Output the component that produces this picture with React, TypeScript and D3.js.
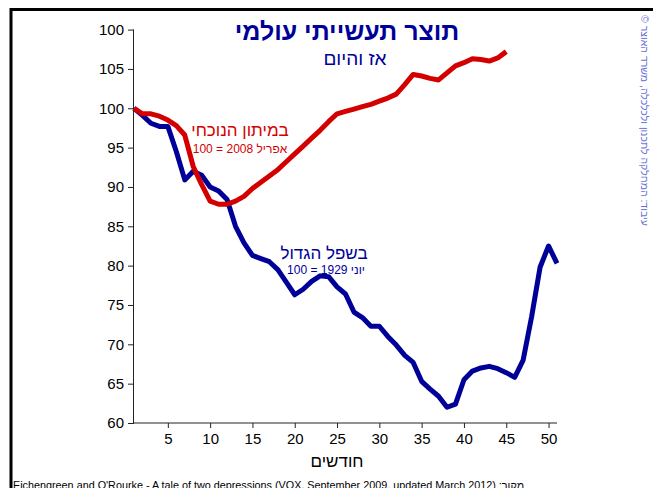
import React, { useRef, useEffect } from "react";
import * as d3 from "d3";

// month index (1..n) -> industrial output index
const greatDepression = [
  100, 99.1, 98.1, 97.7, 97.7, 94.5, 90.9, 92.0, 91.5, 90.0,
  89.5, 88.4, 85.0, 82.9, 81.3, 80.9, 80.5, 79.5, 77.9, 76.3,
  77.0, 78.0, 78.7, 78.6, 77.3, 76.4, 74.1, 73.4, 72.3, 72.3,
  71.0, 69.9, 68.6, 67.7, 65.3, 64.3, 63.4, 62.0, 62.4, 65.5,
  66.6, 67.0, 67.2, 66.9, 66.4, 65.8, 68.0, 73.5, 79.8, 82.5,
  80.3
];

const currentRecession = [
  100, 99.3, 99.3, 99.0, 98.5, 97.8, 96.6, 92.6, 90.3, 88.2,
  87.8, 87.8, 88.2, 88.8, 89.8, 90.6, 91.4, 92.2, 93.2, 94.2,
  95.2, 96.2, 97.2, 98.3, 99.3, 99.6, 99.9, 100.2, 100.5, 100.9,
  101.3, 101.8, 103.0, 104.3, 104.1, 103.8, 103.6, 104.5, 105.4, 105.8,
  106.3, 106.2, 106.0, 106.4, 107.2
];

const xTicks = [5, 10, 15, 20, 25, 30, 35, 40, 45, 50];
const yTicks = [60, 65, 70, 75, 80, 85, 90, 95, 100, 105, 110];
const yTickLabels = ["60", "65", "70", "75", "80", "85", "90", "95", "100", "105", "100"];

const title = "תוצר תעשייתי עולמי";
const subtitle = "אז והיום";
const redLabel = ["במיתון הנוכחי", "אפריל 2008 = 100"];
const blueLabel = ["בשפל הגדול", "יוני 1929 = 100"];
const xTitle = "חודשים";
const source = "Eichengreen and O'Rourke - A tale of two depressions (VOX, September 2009, updated March 2012) :מקור";
const sideNote = "עיבוד: המחלקה לתכנון ולכלכלה, משרד האוצר ©";

const FONT = "'Liberation Sans', Arial, 'DejaVu Sans', sans-serif";
const BLUE = "#000099";
const RED = "#d40000";

export default function App() {
  const svgRef = useRef<SVGSVGElement>(null);

  useEffect(() => {
    const svg = d3.select(svgRef.current);
    svg.selectAll("*").remove();

    const x = d3.scaleLinear().domain([1, 51]).range([134, 557]);
    const y = d3.scaleLinear().domain([60, 110]).range([423, 29.6]);

    // frame
    svg.append("line").attr("x1", 10).attr("x2", 653).attr("y1", 9.5).attr("y2", 9.5)
      .attr("stroke", "#000").attr("stroke-width", 3);
    svg.append("line").attr("x1", 11).attr("x2", 11).attr("y1", 8).attr("y2", 488)
      .attr("stroke", "#000").attr("stroke-width", 3);

    // y axis
    const yAxis = d3.axisLeft(y).tickValues(yTicks)
      .tickFormat((d, i) => yTickLabels[i]).tickSize(6).tickPadding(4);
    const gy = svg.append("g").attr("transform", `translate(${x(1)},0)`).call(yAxis);
    gy.select(".domain").attr("d", `M-0.5,${y(110)}V${y(60)}`);

    // x axis
    const xAxis = d3.axisBottom(x).tickValues(xTicks).tickSize(5).tickPadding(5);
    const gx = svg.append("g").attr("transform", `translate(0,${y(60)})`).call(xAxis);
    gx.select(".domain").attr("d", `M${x(1) - 0.5},0H${x(51)}`);

    [gx, gy].forEach(g => {
      g.attr("font-family", FONT).attr("font-size", 15);
      g.selectAll("text").style("font-family", FONT).style("font-size", "15px").attr("fill", "#000");
      g.selectAll("line, path").attr("stroke", "#222");
    });

    const line = d3.line<number>()
      .x((d, i) => x(i + 1))
      .y(d => y(d));

    svg.append("path").datum(greatDepression).attr("d", line)
      .attr("fill", "none").attr("stroke", BLUE).attr("stroke-width", 5)
      .attr("stroke-linejoin", "round");
    svg.append("path").datum(currentRecession).attr("d", line)
      .attr("fill", "none").attr("stroke", RED).attr("stroke-width", 5)
      .attr("stroke-linejoin", "round");

    const txt = (s: string, tx: number, ty: number, size: number, fill: string, weight = "normal") =>
      svg.append("text").attr("x", tx).attr("y", ty).attr("text-anchor", "middle")
        .attr("direction", "rtl").attr("font-family", FONT).attr("font-size", size)
        .attr("font-weight", weight).attr("fill", fill).text(s);

    txt(title, 347, 40, 25, BLUE, "bold");
    txt(subtitle, 355, 65, 19, BLUE);
    txt(redLabel[0], 240, 136, 17, RED);
    txt(redLabel[1], 240, 153, 12, RED);
    txt(blueLabel[0], 324, 259, 17, BLUE);
    txt(blueLabel[1], 326, 274, 12, BLUE);
    txt(xTitle, 337, 467, 17, "#000");

    svg.append("text").attr("x", 13).attr("y", 489).attr("font-family", FONT)
      .attr("font-size", 10.8).attr("fill", "#000").text(source);

    svg.append("text").attr("transform", "translate(641,15) rotate(90)")
      .attr("font-family", FONT).attr("font-size", 10.5).attr("fill", "#3344cc")
      .attr("opacity", 0.75).attr("direction", "rtl").attr("text-anchor", "end")
      .text(sideNote);
  }, []);

  return (
    <svg ref={svgRef} width={653} height={488}
      style={{ position: "absolute", left: 0, top: 0, background: "#fff" }} />
  );
}
